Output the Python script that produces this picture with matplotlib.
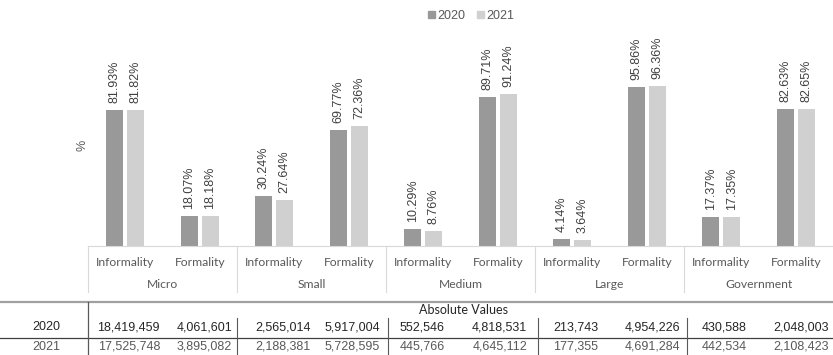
import matplotlib
matplotlib.use("Agg")
import matplotlib.pyplot as plt
import matplotlib.transforms as mtransforms
from matplotlib.lines import Line2D
from matplotlib.patches import Patch
import numpy as np

# shares by firm size and formality status
groups = ["Micro", "Small", "Medium", "Large", "Government"]
kinds = ["Informality", "Formality"]
pct_2020 = [81.93, 18.07, 30.24, 69.77, 10.29, 89.71, 4.14, 95.86, 17.37, 82.63]
pct_2021 = [81.82, 18.18, 27.64, 72.36, 8.76, 91.24, 3.64, 96.36, 17.35, 82.65]

# absolute counts for the table under the chart
abs_2020 = [18419459, 4061601, 2565014, 5917004, 552546, 4818531, 213743, 4954226, 430588, 2048003]
abs_2021 = [17525748, 3895082, 2188381, 5728595, 445766, 4645112, 177355, 4691284, 442534, 2108423]

W, H = 833, 355
C2020 = "#999999"
C2021 = "#d0d0d0"
TXT = "#595959"
NUM = "Liberation Sans"
LAB = "Lato"


def fx(px):
    return px / W


def fy(py):
    return 1 - py / H


fig = plt.figure(figsize=(W / 100, H / 100), dpi=100)
base_y = 245.7
px_per_unit = 1.66
ymax = 120
ax = fig.add_axes([fx(88), fy(base_y), 1 - fx(88), ymax * px_per_unit / H])

x = np.arange(len(pct_2020))
bw = 0.23
b1 = ax.bar(x - 0.14, pct_2020, bw, color=C2020, label="2020")
b2 = ax.bar(x + 0.14, pct_2021, bw, color=C2021, label="2021")

for bars, vals in ((b1, pct_2020), (b2, pct_2021)):
    for rect, v in zip(bars, vals):
        ax.annotate(f"{v:.2f}%", (rect.get_x() + rect.get_width() / 2, v),
                    xytext=(0, 5), textcoords="offset points", rotation=90,
                    ha="center", va="bottom", fontsize=9, color="#404040",
                    family=NUM)

ax.set_xlim(-0.5, len(x) - 0.5)
ax.set_ylim(0, ymax)
ax.set_xticks([])
ax.set_yticks([])
for s in ["top", "right", "left"]:
    ax.spines[s].set_visible(False)
ax.spines["bottom"].set_color("#d9d9d9")
ax.patch.set_alpha(0)

fig.text(fx(83), fy(145), "%", rotation=90, ha="center", va="center",
         fontsize=9, color=TXT, family=NUM)

# category axis labels and group dividers
tr = mtransforms.blended_transform_factory(ax.transData, fig.transFigure)
for i in x:
    fig.text(i, fy(262), kinds[i % 2], transform=tr, ha="center", va="center",
             fontsize=8.7, color=TXT, family=LAB)
for g, name in enumerate(groups):
    fig.text(2 * g + 0.5, fy(284.5), name, transform=tr, ha="center",
             va="center", fontsize=8.7, color=TXT, family=LAB)
for g in range(len(groups)):
    xs = 2 * g - 0.5
    fig.add_artist(Line2D([xs, xs], [fy(base_y), fy(292)], transform=tr,
                          color="#d9d9d9", lw=0.8))

fig.legend(handles=[Patch(color=C2020, label="2020"), Patch(color=C2021, label="2021")],
           loc="center", bbox_to_anchor=(fx(471), fy(16)), ncol=2, frameon=False,
           handlelength=0.55, handleheight=0.55, handletextpad=0.2,
           columnspacing=0.9, prop={"family": NUM, "size": 9}, labelcolor=TXT)

# table of absolute values
fig.add_artist(Line2D([0, 1], [fy(301.5), fy(301.5)], color="#a0a0a0", lw=1.6))
fig.add_artist(Line2D([0, 1], [fy(337.5), fy(337.5)], color="#404040", lw=0.9))
fig.add_artist(Line2D([fx(88), fx(88)], [fy(301.5), 0], color="#595959", lw=0.9))
for px in [237, 388, 537.5, 686.5]:
    fig.add_artist(Line2D([fx(px), fx(px)], [fy(318), 0], color="#595959", lw=0.8))

fig.text(fx(463), fy(310), "Absolute Values", ha="center", va="center",
         fontsize=9, color="#262626", family=LAB)

col_right = [160, 232, 311, 380, 445, 527, 598, 680, 747, 829]
rows = [("2020", abs_2020, 327.5, "#262626"), ("2021", abs_2021, 346.5, TXT)]
for label, vals, py, col in rows:
    fig.text(fx(60), fy(py), label, ha="right", va="center", fontsize=9,
             color=col, family=NUM)
    for r, v in zip(col_right, vals):
        fig.text(fx(r), fy(py), f"{v:,}", ha="right", va="center",
                 fontsize=9, color=col, family=NUM)

fig.savefig("out.png", dpi=100)
